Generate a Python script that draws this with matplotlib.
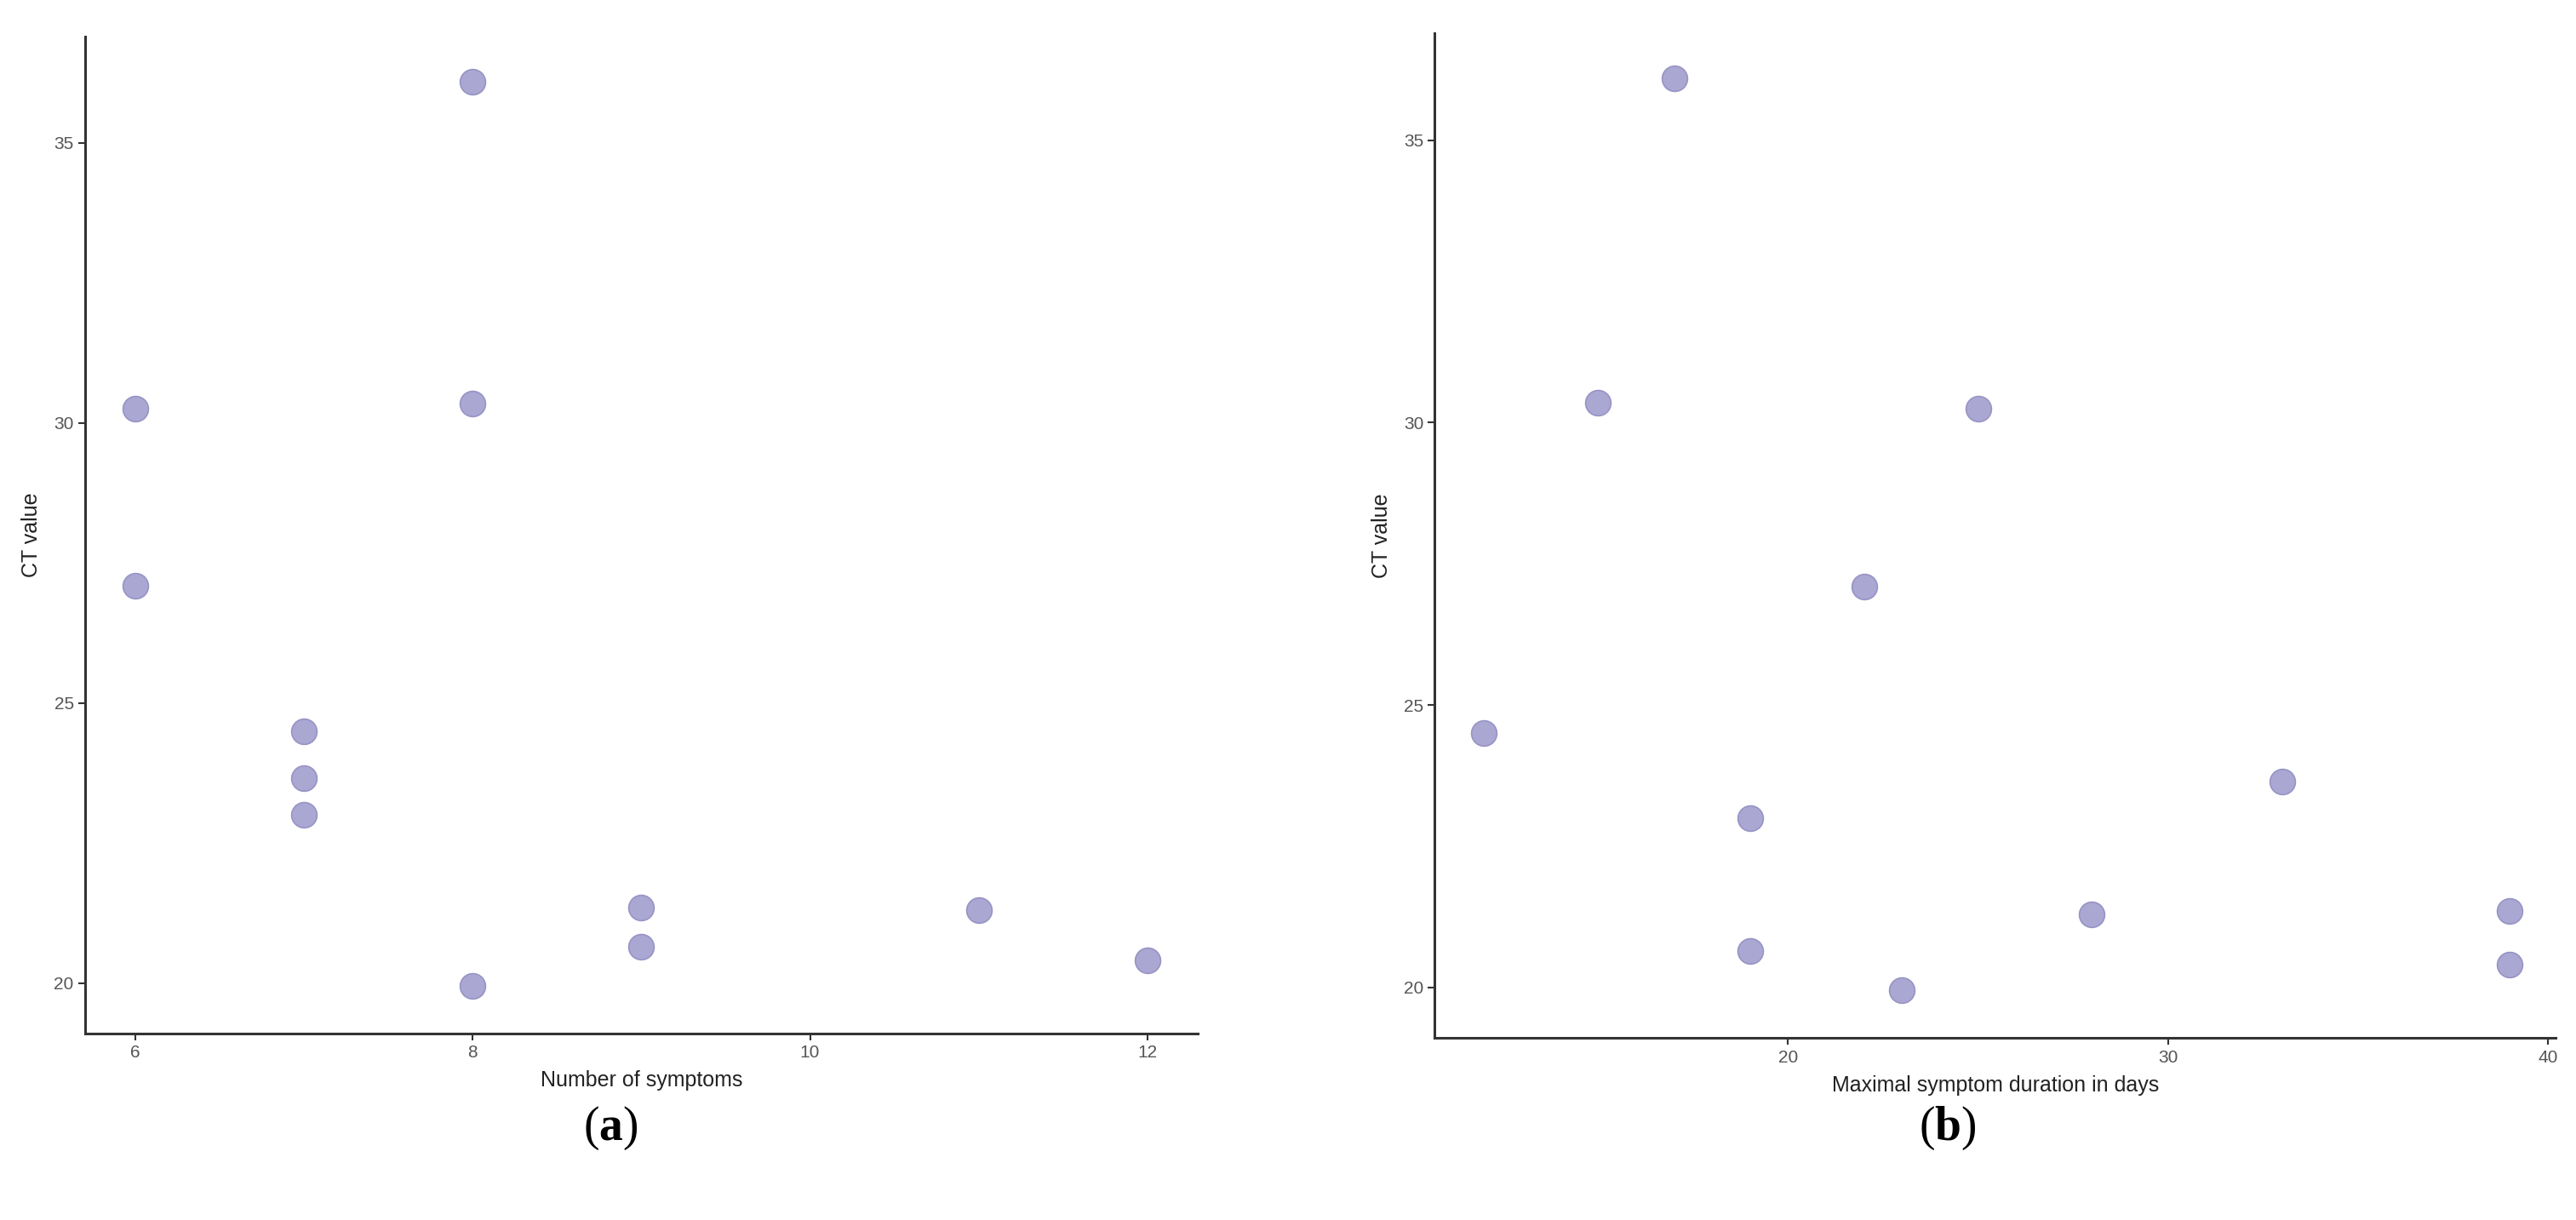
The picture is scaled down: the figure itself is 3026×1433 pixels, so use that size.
import matplotlib
matplotlib.use("Agg")
import matplotlib.pyplot as plt

n_symptoms = [6, 6, 7, 7, 7, 8, 8, 8, 9, 9, 11, 12]
ct_a = [30.25, 27.1, 24.5, 23.65, 23.0, 36.1, 30.35, 19.95, 21.35, 20.65, 21.3, 20.4]
duration = [12, 15, 17, 19, 19, 22, 23, 25, 28, 33, 39, 39]
ct_b = [24.5, 30.35, 36.1, 23.0, 20.65, 27.1, 19.95, 30.25, 21.3, 23.65, 21.35, 20.4]

plt.rcParams['font.family'] = ['Liberation Sans', 'DejaVu Sans']
plt.rcParams['mathtext.fontset'] = 'custom'
plt.rcParams['mathtext.bf'] = 'Liberation Serif:bold'
plt.rcParams['mathtext.rm'] = 'Liberation Serif'

fig = plt.figure(figsize=(30.26, 14.33), dpi=100)
axa = fig.add_axes([0.033, 0.153, 0.432, 0.817])
axb = fig.add_axes([0.557, 0.149, 0.435, 0.824])

def style(ax, xlabel, xlim, xticks):
    ax.set_xlim(*xlim)
    ax.set_ylim(19.1, 36.9)
    ax.set_xticks(xticks)
    ax.set_yticks([20, 25, 30, 35])
    for s in ['top', 'right']:
        ax.spines[s].set_visible(False)
    for s in ['left', 'bottom']:
        ax.spines[s].set_linewidth(2.2)
        ax.spines[s].set_color('#333333')
    ax.tick_params(labelsize=15, labelcolor='#555555', color='#333333', length=6, width=1.5)
    ax.set_xlabel(xlabel, fontsize=18, color='#222222', labelpad=8)
    ax.set_ylabel('CT value', fontsize=18, color='#222222', labelpad=10)

axa.scatter(n_symptoms, ct_a, s=460, color='#aaa7d3', edgecolor='#9794c4', linewidth=1.2, zorder=3)
axb.scatter(duration, ct_b, s=460, color='#aaa7d3', edgecolor='#9794c4', linewidth=1.2, zorder=3)
style(axa, 'Number of symptoms', (5.7, 12.3), [6, 8, 10, 12])
style(axb, 'Maximal symptom duration in days', (10.7, 40.2), [20, 30, 40])

fig.text(0.237, 0.075, r'$\mathrm{(}\mathbf{a}\mathrm{)}$', fontsize=40, ha='center', va='center')
fig.text(0.756, 0.075, r'$\mathrm{(}\mathbf{b}\mathrm{)}$', fontsize=40, ha='center', va='center')

fig.savefig('out.png', dpi=100, facecolor='white')
